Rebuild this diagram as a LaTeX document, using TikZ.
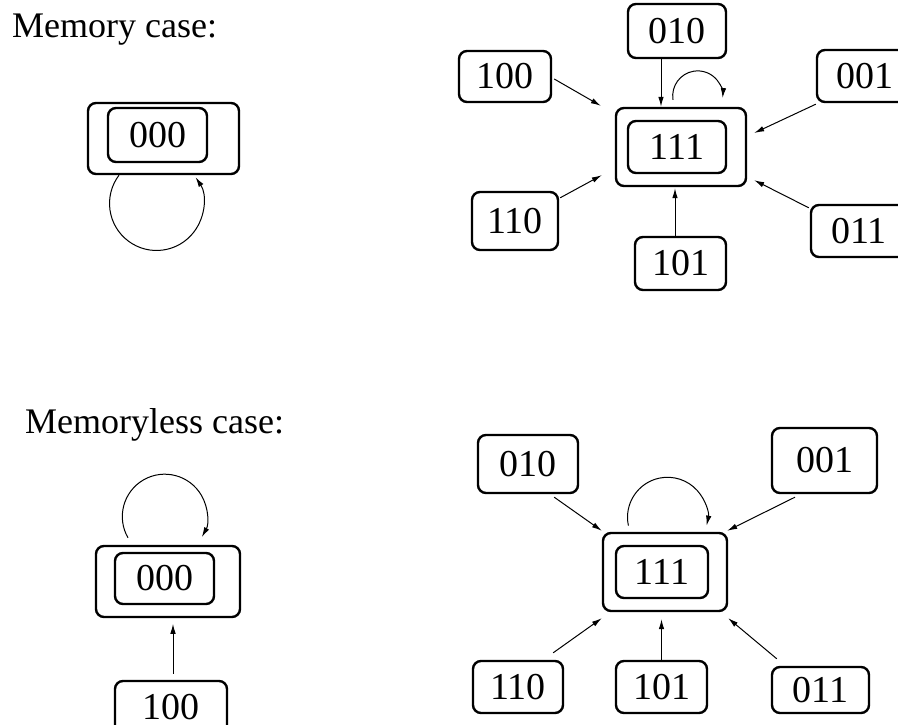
\documentclass[tikz,border=0pt]{standalone}
\usepackage{fontspec}
\setmainfont{Liberation Serif}
\usetikzlibrary{arrows.meta,calc}
\tikzset{
  box/.style={draw, rounded corners=8pt, line width=2.4pt, inner sep=0pt, font=\fontsize{38}{42}\selectfont},
  lbl/.style={inner sep=0pt, anchor=base west, font=\fontsize{36}{40}\selectfont},
  conn/.style={line width=1pt, -{Latex[length=10pt,width=5.5pt]}},
}
\begin{document}
\begin{tikzpicture}[x=1pt,y=1pt]
\useasboundingbox (0,0) rectangle (898,725);
% ---------- Memory case ----------
\node[lbl] (tmem) at (12,687) {Memory case:};
\node[box, minimum width=151pt, minimum height=71pt] (m0o) at (163.5,586.5) {};
\node[box, minimum width=99pt, minimum height=54pt] (m0i) at (157.5,590) {000};
\draw[conn] ([xshift=-44.5pt]m0o.south) arc[start angle=143, end angle=394, radius=47pt];

\node[box, minimum width=98pt, minimum height=54pt] (t010) at (677,694) {010};
\node[box, minimum width=92pt, minimum height=51pt] (t100) at (505,648.5) {100};
\node[box, minimum width=96pt, minimum height=52pt] (t001) at (865,649) {001};
\node[box, minimum width=130pt, minimum height=78pt] (t111o) at (681,578) {};
\node[box, minimum width=98pt, minimum height=52pt] (t111i) at (677,578) {111};
\node[box, minimum width=86pt, minimum height=58pt] (t110) at (515,504) {110};
\node[box, minimum width=91pt, minimum height=53pt] (t101) at (680.5,461.5) {101};
\node[box, minimum width=96pt, minimum height=52pt] (t011) at (859,494) {011};

\draw[conn] ($(t100.east)+(2,-2.5)$) -- ($(t111o.north west)+(-14,1)$);
\draw[conn] ([xshift=-16pt]t010.south) -- ([xshift=-16pt]t010.south |- t111o.north);
\draw[conn] ($(t111o.north)+(-8,7)$) arc[start angle=189, end angle=-5, radius=25pt];
\draw[conn] ($(t001.south west)+(0,-1)$) -- ($(t111o.east)+(7,14)$);
\draw[conn] ($(t110.north east)+(1,-7)$) -- ($(t111o.south west)+(-13,12)$);
\draw[conn] ([xshift=-5.5pt]t101.north) -- ($([xshift=-5.5pt]t101.north |- t111o.south)+(0,-1)$);
\draw[conn] ($(t011.north west)+(-1,-4)$) -- ($(t111o.south east)+(7,7)$);

% ---------- Memoryless case ----------
\node[lbl] (tless) at (25,291) {Memoryless case:};
\node[box, minimum width=144pt, minimum height=71pt] (b0o) at (168,143.5) {};
\node[box, minimum width=99pt, minimum height=51pt] (b0i) at (164.5,146.5) {000};
\node[box, minimum width=112pt, minimum height=52pt] (b100) at (171,18) {100};
\draw[conn] ($(b0o.north)+(-40,7)$) arc[start angle=210, end angle=-29, radius=42.4pt];
\draw[conn] ($(b100.north)+(2,6)$) -- ($(b100.north)+(2,56)$);

\node[box, minimum width=100pt, minimum height=58pt] (r010) at (528,261) {010};
\node[box, minimum width=105pt, minimum height=65pt] (r001) at (824.5,264.5) {001};
\node[box, minimum width=124pt, minimum height=78pt] (r111o) at (665,153) {};
\node[box, minimum width=92pt, minimum height=52pt] (r111i) at (662,153) {111};
\node[box, minimum width=90pt, minimum height=52pt] (r110) at (518,38) {110};
\node[box, minimum width=91pt, minimum height=52pt] (r101) at (661.5,38) {101};
\node[box, minimum width=97pt, minimum height=46pt] (r011) at (820.5,35) {011};

\draw[conn] ($(r010.south east)+(-25,-3)$) -- ($(r111o.north west)+(0,1)$);
\draw[conn] ($(r111o.north)+(-36.6,6.2)$) arc[start angle=192, end angle=-12, radius=40pt];
\draw[conn] ($(r001.south)+(-29.5,-3)$) -- ($(r111o.north east)+(-1,1)$);
\draw[conn] ($(r110.north east)+(-11,7)$) -- ($(r111o.south west)+(0,-6)$);
\draw[conn] (r101.north) -- ($(r101.north |- r111o.south)+(0,-7)$);
\draw[conn] ($(r011.north west)+(6,7)$) -- ($(r111o.south east)+(0,-6)$);
\end{tikzpicture}
\end{document}
